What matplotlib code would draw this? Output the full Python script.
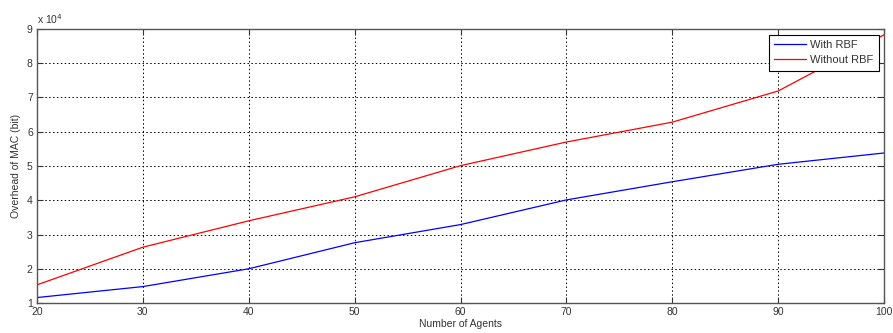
import matplotlib.pyplot as plt

agents = [20, 30, 40, 50, 60, 70, 80, 90, 100]
with_rbf = [1.16, 1.48, 2.0, 2.76, 3.29, 4.01, 4.54, 5.05, 5.38]
without_rbf = [1.53, 2.63, 3.40, 4.10, 5.01, 5.70, 6.28, 7.19, 8.83]

plt.rcParams['font.family'] = ['Liberation Sans', 'DejaVu Sans']
plt.rcParams['font.size'] = 7.5

fig = plt.figure(figsize=(8.93, 3.33), dpi=100)
ax = fig.add_axes([0.0414, 0.09, 0.9486, 0.823])

ax.plot(agents, with_rbf, color='blue', lw=0.9, label='With RBF')
ax.plot(agents, without_rbf, color='red', lw=0.9, label='Without RBF')

ax.set_xlim(20, 100)
ax.set_ylim(1, 9)
ax.set_xticks(agents)
ax.set_yticks(range(1, 10))
ax.grid(True, color='black', linestyle=(0, (1.5, 2.5)), lw=0.7)
ax.tick_params(direction='in', top=True, right=True, length=4, pad=3, colors='#333333')
for s in ax.spines.values():
    s.set_color('#555555')
    s.set_linewidth(1.0)

ax.set_xlabel('Number of Agents', labelpad=1, color='#333333')
ax.set_ylabel('Overhead of MAC (bit)', labelpad=4, color='#333333')
ax.text(0, 1.01, 'x 10$^4$', transform=ax.transAxes, fontsize=7.5, color='#333333', va='bottom')

leg = ax.legend(loc='upper right', fancybox=False, framealpha=1, edgecolor='black',
                fontsize=8, borderpad=0.5, handlelength=2.9, handletextpad=0.3,
                labelspacing=0.45, borderaxespad=0.5)
leg.get_frame().set_linewidth(0.8)
for t in leg.get_texts():
    t.set_color('#333333')

plt.savefig('out.png', dpi=100)
